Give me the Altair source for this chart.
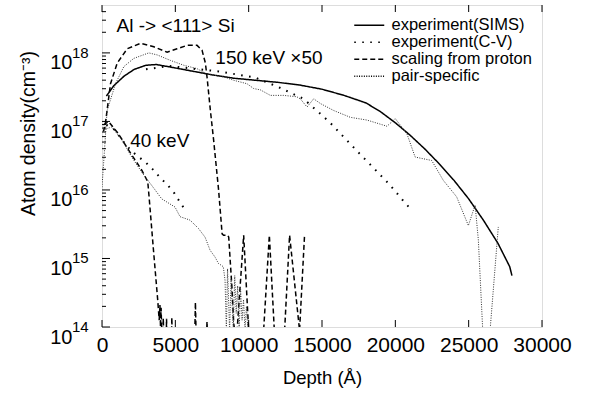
import altair as alt
import pandas as pd

F = 13.95  # just below the bottom of the axis (values fall to ~0)

names = ["experiment(SIMS)", "experiment(C-V)", "scaling from proton", "pair-specific"]

# experiment(SIMS), 150 keV
sims_d = [300, 800, 1500, 2200, 3000, 3700, 4500, 5500, 6500, 7500, 9000, 10500, 12000, 13500,
          15000, 16500, 18000, 19000, 20000, 21000, 22000, 23000, 24000, 25000, 26000, 27000, 27800, 27950]
sims_e = [17.37, 17.52, 17.66, 17.76, 17.82, 17.83, 17.80, 17.76, 17.72, 17.68, 17.63, 17.60, 17.57, 17.53,
          17.47, 17.38, 17.27, 17.14, 16.98, 16.80, 16.60, 16.38, 16.14, 15.87, 15.56, 15.22, 14.88, 14.75]

# experiment(C-V), 150 keV and 40 keV
cv150_d = [3000, 4550, 6200, 7950, 10450, 12040, 13740, 15000, 15560, 16580, 17560, 18560, 19600, 20510, 21010]
cv150_e = [17.76, 17.81, 17.77, 17.73, 17.64, 17.50, 17.33, 17.09, 16.98, 16.75, 16.53, 16.31, 16.08, 15.85, 15.73]
cv40_d = [300, 850, 1400, 1950, 2450, 2940, 3460, 3960, 4480, 4940, 5320, 5730]
cv40_e = [16.95, 16.88, 16.72, 16.58, 16.49, 16.41, 16.30, 16.18, 16.07, 15.95, 15.82, 15.69]

# scaling from proton, 150 keV and 40 keV
sc150_d = [100, 230, 580, 1035, 1716, 2620, 3530, 4440, 5120, 5800, 6480, 6820, 7050, 7160, 7390, 7610,
           7950, 8190, 8290, 8570, 8640, 8870, 8980, 9050, 9210, 9660, 10000, 11020, 11410, 11750,
           12450, 12790, 13470, 13810]
sc150_e = [16.85, 16.97, 17.55, 17.85, 18.06, 18.14, 18.09, 18.01, 18.06, 18.11, 18.11, 18.04, 17.85, 17.65,
           17.16, 16.73, 16.00, 15.36, 15.34, 15.34, 15.31, 14.54, 14.05, F, F, 15.34, F, F, 15.34, F,
           F, 15.34, F, 15.34]
sc40_d = [100, 440, 1120, 2030, 2710, 3120, 3210, 3510, 3800, 3900, 3950, 3990, 4030, 4070, 4160, 4180, 4200,
          4390, 4400, 4420, 4750, 4760, 4780, 6330, 6370, 6410, 7140, 7160, 7180]
sc40_e = [16.95, 17.00, 16.82, 16.51, 16.29, 16.12, 15.90, 15.12, 14.39, 14.10, 14.32, 14.00, 14.28, F, F, 14.13, F,
          F, 14.12, F, F, 14.14, F, F, 14.36, F, F, 14.08, F]

# pair-specific, 150 keV and 40 keV
pr150_d = [0, 190, 350, 920, 1490, 2170, 3190, 3770, 4670, 5570, 6480, 7160, 8300, 8980, 9890, 10340, 10800,
           11480, 12380, 13280, 13520, 13980, 14430, 14900, 15790, 16930, 18060, 19430, 20000, 20790, 21350,
           22480, 23270, 24180, 24980, 25440, 25660, 25960, 26460, 27020]
pr150_e = [16.04, 16.65, 17.16, 17.55, 17.80, 17.92, 18.00, 17.97, 17.89, 17.82, 17.77, 17.69, 17.65, 17.60,
           17.55, 17.48, 17.46, 17.38, 17.38, 17.36, 17.33, 17.21, 17.33, 17.26, 17.16, 17.06, 17.02, 16.93,
           17.04, 16.82, 16.48, 16.43, 16.14, 15.90, 15.48, 15.78, 15.27, F, F, 15.46]
pr40_d = [150, 670, 1350, 2030, 2710, 3620, 4070, 4980, 5320, 6000, 6570, 7030, 7370, 7710, 7930, 8270, 8390,
          8480, 8560, 8700, 8800, 8950, 9050, 9150, 9250, 9350, 9450, 9550, 9650, 9750, 9850, 9950]
pr40_e = [16.88, 16.92, 16.73, 16.48, 16.26, 16.00, 15.87, 15.75, 15.61, 15.56, 15.44, 15.31, 15.12, 15.02,
          14.93, 14.88, 14.68, F, 14.85, F, 14.70, F, 14.75, 14.20, 14.60, F, 14.55, 14.10, 14.40, F, 14.30, F]

x_ticks = [0, 5000, 10000, 15000, 20000, 25000, 30000]
y_ticks = [1e14, 1e15, 1e16, 1e17, 1e18]
y_tick_base = "10"
y_tick_exps = ["14", "15", "16", "17", "18"]
y_minor = [m * 10.0 ** k for k in range(14, 18) for m in range(2, 10)] + [2e18, 3e18, 4e18]

ann_text = ["Al -> <111> Si", "150 keV ×50", "40 keV"]
ann_depth = [990, 7730, 1920]
ann_density = [2.0e18, 7.0e17, 4.3e16]

segments = [
    (names[0], "sims150", sims_d, sims_e),
    (names[1], "cv150", cv150_d, cv150_e),
    (names[1], "cv40", cv40_d, cv40_e),
    (names[2], "sc150", sc150_d, sc150_e),
    (names[2], "sc40", sc40_d, sc40_e),
    (names[3], "pr150", pr150_d, pr150_e),
    (names[3], "pr40", pr40_d, pr40_e),
]
rows = []
for s, seg, ds, es in segments:
    for d, e in zip(ds, es):
        rows.append({"series": s, "seg": seg, "depth": d, "density": 10.0 ** e})
df = pd.DataFrame(rows)

W, H = 440, 322
FONT = "Liberation Sans"

xscale = alt.Scale(domain=[0, 30000], nice=False, zero=False)
yscale = alt.Scale(type="log", domain=[1e14, 5e18], nice=False)

X = alt.X("depth:Q", scale=xscale,
          axis=alt.Axis(values=x_ticks, format="d", ticks=False, domain=False, grid=False,
                        labelFontSize=21, labelPadding=7, labelFlush=False,
                        title="Depth (Å)", titleFontSize=18.5, titleFontWeight="normal",
                        titleY=41, titleBaseline="top"))
Y = alt.Y("density:Q", scale=yscale,
          axis=alt.Axis(values=y_ticks, labelExpr=f"'{y_tick_base}'", ticks=False, domain=False, grid=False,
                        labelFontSize=20, labelPadding=30, labelFlush=False, labelOffset=16,
                        labelBaseline="alphabetic",
                        title="Atom density(cm⁻³)", titleFontSize=19.5, titleFontWeight="normal",
                        titleX=-64, titleY=128))

# wide horizontal stroke symbol (30 px at size 100) so that rows stay compact
dash = alt.StrokeDash(
    "series:N",
    scale=alt.Scale(domain=names, range=[[1, 0], [1.6, 6.4], [5, 3], [1, 1.4]]),
    legend=alt.Legend(title=None, orient="none", legendX=259, legendY=12, symbolType="M-3,0H3",
                      symbolSize=100, symbolStrokeWidth=1.5, symbolStrokeColor="black",
                      symbolFillColor="transparent",
                      labelFontSize=16.5, labelFont=FONT, labelOffset=14, rowPadding=0, padding=0),
)

styles = {names[0]: (1.5, "black"), names[1]: (2.0, "black"),
          names[2]: (1.5, "black"), names[3]: (1.0, "#333333")}

layers = []
for i, n in enumerate(names):
    w, c = styles[n]
    layers.append(
        alt.Chart(df).transform_filter(alt.datum.series == n)
        .mark_line(clip=True, strokeWidth=w, color=c, strokeCap="butt")
        .encode(x=X if i == 0 else alt.X("depth:Q"),
                y=Y if i == 0 else alt.Y("density:Q"),
                strokeDash=dash, detail="seg:N", order="depth:Q")
    )

xt = pd.DataFrame({"depth": x_ticks})
yt = pd.DataFrame({"density": y_ticks, "sup": y_tick_exps})
ym = pd.DataFrame({"density": y_minor})
xa = alt.X("depth:Q")
ya = alt.Y("density:Q")
tick_layers = [
    alt.Chart(xt).mark_rule(color="black", strokeWidth=1).encode(x=xa, y=alt.value(H), y2=alt.value(H - 7)),
    alt.Chart(xt).mark_rule(color="black", strokeWidth=1).encode(x=xa, y=alt.value(0), y2=alt.value(7)),
    alt.Chart(yt).mark_rule(color="black", strokeWidth=1).encode(y=ya, x=alt.value(0), x2=alt.value(8)),
    alt.Chart(ym).mark_rule(color="black", strokeWidth=1).encode(y=ya, x=alt.value(0), x2=alt.value(4)),
]
# superscript exponents of the y tick labels
sup_layer = alt.Chart(yt).mark_text(align="left", baseline="alphabetic", fontSize=15, font=FONT,
                                    color="black", dy=5, clip=False).encode(
    y=ya, x=alt.value(-30), text="sup:N")

ann = pd.DataFrame({"t": ann_text, "depth": ann_depth, "density": ann_density})
text_layer = alt.Chart(ann).mark_text(align="left", baseline="alphabetic", fontSize=19, font=FONT,
                                      color="black").encode(x=xa, y=ya, text="t:N")

chart = alt.layer(*layers, *tick_layers, sup_layer, text_layer).properties(
    width=W, height=H,
    autosize=alt.AutoSizeParams(type="none"),
    padding={"left": 102, "top": 5, "right": 52, "bottom": 69},
).configure_view(stroke="black", strokeWidth=1.3).configure_axis(
    labelFont=FONT, titleFont=FONT, labelColor="black", titleColor="black"
).configure(background="white")

chart.save("out.html", embed_options={"renderer": "svg", "actions": False})
